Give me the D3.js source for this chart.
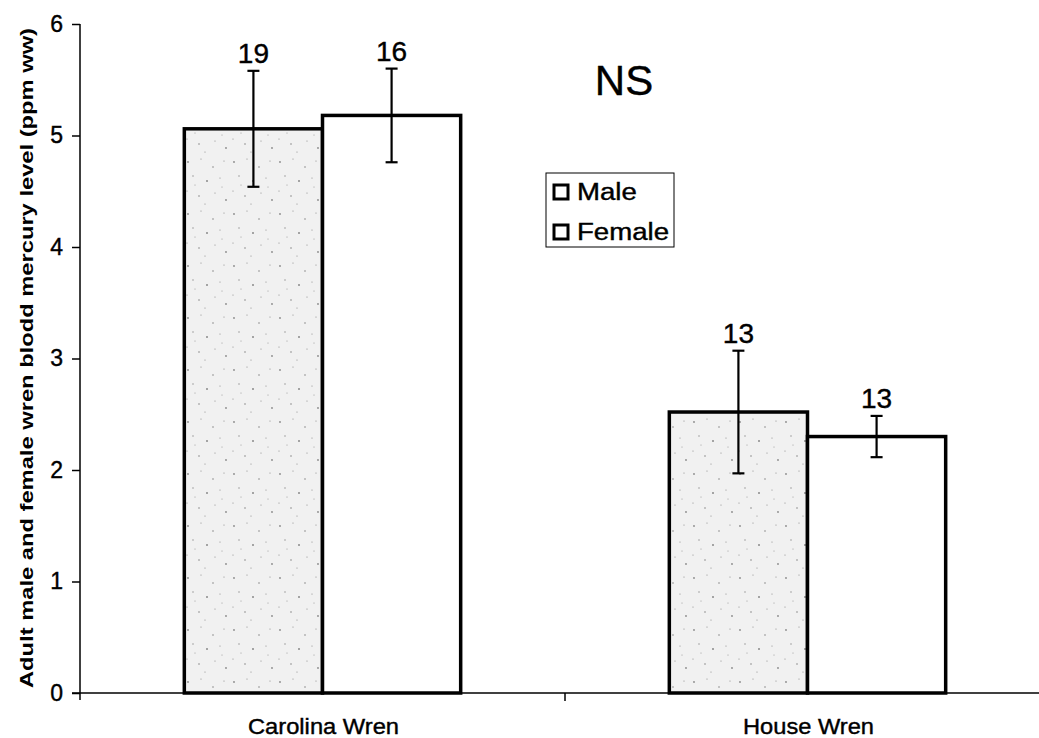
<!DOCTYPE html>
<html>
<head>
<meta charset="utf-8">
<script src="https://cdn.jsdelivr.net/npm/d3@7/dist/d3.min.js"></script>
<style>
  html, body { margin: 0; padding: 0; background: #fff; }
  svg { display: block; font-family: "Liberation Sans", Arial, sans-serif; }
  svg text.heavy { stroke: #000; stroke-width: 0.4px; }
</style>
</head>
<body>
<script>
// Blood mercury (ppm ww) in adult wrens by sex
const categories = ["Carolina Wren", "House Wren"];
const seriesNames = ["Male", "Female"];
const maleMeans = [5.06, 2.52];
const femaleMeans = [5.18, 2.30];
const maleErrors = [0.52, 0.55];
const femaleErrors = [0.42, 0.185];
const maleN = ["19", "13"];
const femaleN = ["16", "13"];
const yTicks = [0, 1, 2, 3, 4, 5, 6];

const W = 1039, H = 738;
const svg = d3.select("body").append("svg").attr("width", W).attr("height", H);

// speckled light fill used for the male bars
const defs = svg.append("defs");
const pat = defs.append("pattern").attr("id", "speckle")
  .attr("patternUnits", "userSpaceOnUse").attr("width", 46).attr("height", 52);
pat.append("rect").attr("width", 46).attr("height", 52).attr("fill", "#f1f1f1");
const dots = [[4,6,0.9],[17,3,0.6],[29,11,0.8],[40,5,0.6],[9,20,0.7],[23,25,1.0],[36,22,0.6],
              [3,35,0.6],[15,40,0.8],[31,37,0.6],[42,44,0.9],[21,48,0.6],[11,29,0.5],[38,31,0.5]];
dots.forEach(d => pat.append("circle").attr("cx", d[0]).attr("cy", d[1]).attr("r", d[2]).attr("fill", "#8a8a8a"));

const x0 = d3.scaleBand().domain(categories).range([80, 1050]).paddingInner(0).paddingOuter(0);
const x1 = d3.scaleBand().domain(seriesNames).range([0, x0.bandwidth()]).paddingInner(0).paddingOuter(0.755);
const y = d3.scaleLinear().domain([0, 6]).range([693, 24]);

const rows = [];
categories.forEach((c, i) => {
  rows.push({cat: c, s: "Male", v: maleMeans[i], e: maleErrors[i], n: maleN[i]});
  rows.push({cat: c, s: "Female", v: femaleMeans[i], e: femaleErrors[i], n: femaleN[i]});
});

// bars
svg.append("g").selectAll("rect").data(rows).join("rect")
  .attr("x", d => x0(d.cat) + x1(d.s))
  .attr("y", d => y(d.v))
  .attr("width", x1.bandwidth())
  .attr("height", d => y(0) - y(d.v))
  .attr("fill", d => d.s === "Male" ? "url(#speckle)" : "#fff")
  .attr("stroke", "#000").attr("stroke-width", 3.5);

// error bars
const eb = svg.append("g").attr("stroke", "#000").attr("stroke-width", 2.2);
rows.forEach(d => {
  const cx = x0(d.cat) + x1(d.s) + x1.bandwidth() / 2;
  eb.append("line").attr("x1", cx).attr("x2", cx).attr("y1", y(d.v + d.e)).attr("y2", y(d.v - d.e));
  eb.append("line").attr("x1", cx - 6).attr("x2", cx + 6).attr("y1", y(d.v + d.e)).attr("y2", y(d.v + d.e));
  eb.append("line").attr("x1", cx - 6).attr("x2", cx + 6).attr("y1", y(d.v - d.e)).attr("y2", y(d.v - d.e));
});

// sample sizes above error bars
svg.append("g").selectAll("text").data(rows).join("text")
  .attr("class", "heavy")
  .attr("x", d => x0(d.cat) + x1(d.s) + x1.bandwidth() / 2)
  .attr("y", d => y(d.v + d.e) - 8)
  .attr("text-anchor", "middle").style("font-size", "28px").attr("fill", "#000")
  .text(d => d.n);

// y axis
const yAxis = d3.axisLeft(y).tickValues(yTicks).tickSize(8).tickPadding(9).tickFormat(d3.format("d"));
const gy = svg.append("g").attr("transform", "translate(80,0)").call(yAxis);
gy.attr("font-size", null).attr("font-family", null);
gy.select(".domain").attr("d", "M0,24V700").attr("stroke-width", 1.5);
gy.selectAll(".tick line").attr("stroke-width", 1.5);
gy.selectAll(".tick text").attr("class", "heavy").style("font-size", "23px").attr("fill", "#000");

// x axis
const gx = svg.append("g").attr("transform", "translate(0,693)");
gx.append("line").attr("x1", 72).attr("x2", W).attr("stroke", "#000").attr("stroke-width", 1.5);
gx.append("line").attr("x1", x0("House Wren")).attr("x2", x0("House Wren")).attr("y1", 0).attr("y2", 8)
  .attr("stroke", "#000").attr("stroke-width", 1.5);
gx.selectAll("text.cat").data(categories).join("text").attr("class", "cat heavy")
  .attr("x", d => x0(d) + x0.bandwidth() / 2 + 1)
  .attr("y", 41)
  .attr("text-anchor", "middle").style("font-size", "22px").attr("fill", "#000")
  .attr("textLength", d => d === "Carolina Wren" ? 151 : 131).attr("lengthAdjust", "spacingAndGlyphs")
  .text(d => d);

// y axis title
svg.append("text")
  .attr("transform", "translate(33,358) rotate(-90)")
  .attr("text-anchor", "middle").style("font-size", "19px").attr("font-weight", "bold").attr("fill", "#000")
  .attr("textLength", 660).attr("lengthAdjust", "spacingAndGlyphs")
  .text("Adult male and female wren blodd mercury level (ppm ww)");

// significance note
svg.append("text").attr("class", "heavy").attr("x", 624).attr("y", 95).attr("text-anchor", "middle")
  .style("font-size", "42px").attr("fill", "#000").text("NS");

// legend
const lg = svg.append("g").attr("transform", "translate(546,173)");
lg.append("rect").attr("width", 128).attr("height", 74).attr("fill", "#fff").attr("stroke", "#000").attr("stroke-width", 1);
seriesNames.forEach((s, i) => {
  const yy = 12 + i * 40;
  lg.append("rect").attr("x", 8).attr("y", yy).attr("width", 14).attr("height", 14)
    .attr("fill", "#fff").attr("stroke", "#000").attr("stroke-width", 3);
  const t = lg.append("text").attr("class", "heavy").attr("x", 31).attr("y", yy + 15)
    .style("font-size", "23px").attr("fill", "#000").text(s);
  // slightly widened lettering
  const len = t.node().getComputedTextLength();
  t.attr("textLength", len * 1.2).attr("lengthAdjust", "spacingAndGlyphs");
});
</script>
</body>
</html>
